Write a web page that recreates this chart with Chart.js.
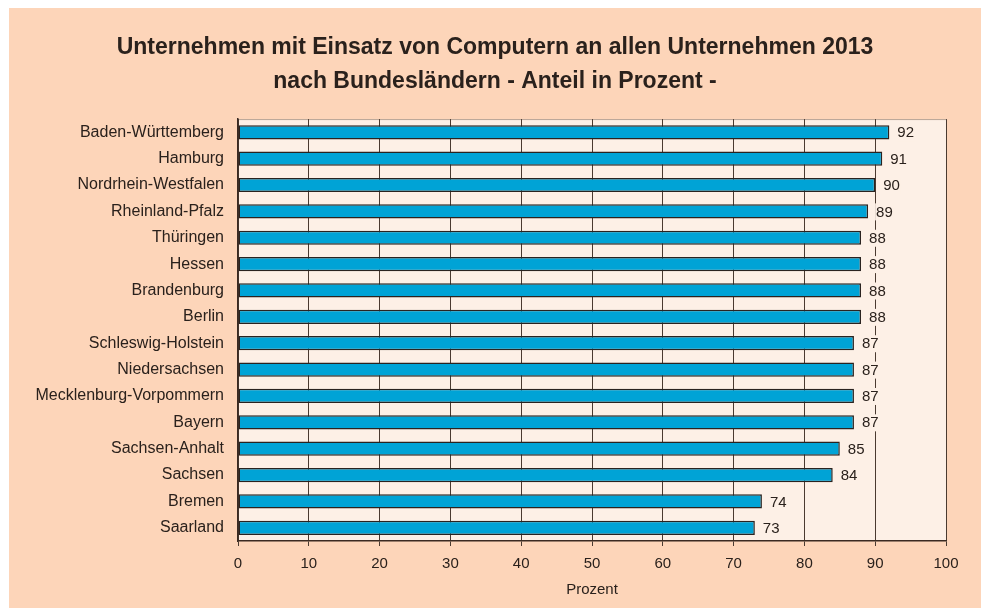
<!DOCTYPE html>
<html>
<head>
<meta charset="utf-8">
<script src="https://cdn.jsdelivr.net/npm/chart.js@4.4.1/dist/chart.umd.min.js"></script>
<style>
  html, body { margin: 0; padding: 0; background: #fff; }
  #box {
    position: absolute; left: 9px; top: 8px;
    width: 972px; height: 600px;
    background: #fdd5b9;
  }
  canvas { display: block; }
</style>
</head>
<body>
<div id="box"><canvas id="grafico" width="972" height="600"></canvas></div>
<script>
const laender = [
  "Baden-Württemberg", "Hamburg", "Nordrhein-Westfalen", "Rheinland-Pfalz",
  "Thüringen", "Hessen", "Brandenburg", "Berlin", "Schleswig-Holstein",
  "Niedersachsen", "Mecklenburg-Vorpommern", "Bayern", "Sachsen-Anhalt",
  "Sachsen", "Bremen", "Saarland"
];
const anteil = [92, 91, 90, 89, 88, 88, 88, 88, 87, 87, 87, 87, 85, 84, 74, 73];
const titel = [
  "Unternehmen mit Einsatz von Computern an allen Unternehmen 2013",
  "nach Bundesländern - Anteil in Prozent -"
];
const achsenTitel = "Prozent";

const schrift = "'Liberation Sans', Arial, sans-serif";
const textFarbe = "#2a211c";

// Hintergrund der Zeichenfläche, Rahmen und Werte an den Balken
const flaeche = {
  id: "flaeche",
  afterLayout(chart) {
    // Titel über die ganze Breite zentrieren
    const t = chart.titleBlock;
    if (t) { t.left = 0; t.right = chart.width; t.width = chart.width; }
  },
  beforeDraw(chart) {
    const { ctx, chartArea: a } = chart;
    ctx.save();
    ctx.fillStyle = "#fdf0e6";
    ctx.fillRect(a.left, a.top, a.right - a.left, a.bottom - a.top);
    ctx.strokeStyle = "#b8a394";
    ctx.lineWidth = 1;
    ctx.beginPath();
    ctx.moveTo(a.left, a.top + 0.5);
    ctx.lineTo(a.right, a.top + 0.5);
    ctx.stroke();
    ctx.restore();
  },
  afterDatasetsDraw(chart) {
    const { ctx } = chart;
    const meta = chart.getDatasetMeta(0);
    ctx.save();
    ctx.font = "15px " + schrift;
    ctx.textBaseline = "middle";
    meta.data.forEach((bar, i) => {
      const txt = String(anteil[i]);
      const x = bar.x + 8;
      const w = ctx.measureText(txt).width;
      ctx.fillStyle = "#fdf0e6";
      ctx.fillRect(x - 1, bar.y - 8, w + 2, 17);
      ctx.fillStyle = textFarbe;
      ctx.fillText(txt, x, bar.y + 1);
    });
    ctx.restore();
  }
};

new Chart(document.getElementById("grafico"), {
  type: "bar",
  data: {
    labels: laender,
    datasets: [{
      data: anteil,
      backgroundColor: "#00a3d6",
      borderColor: "#2a2320",
      borderWidth: 1.5,
      borderSkipped: false,
      barPercentage: 0.54,
      categoryPercentage: 1
    }]
  },
  options: {
    indexAxis: "y",
    responsive: false,
    animation: false,
    layout: { padding: { left: 0, right: 35, top: 0, bottom: 0 } },
    plugins: {
      legend: { display: false },
      tooltip: { enabled: false },
      title: {
        display: true,
        text: titel,
        color: textFarbe,
        font: { family: schrift, size: 23, weight: "bold", lineHeight: 1.48 },
        padding: { top: 23, bottom: 20 }
      }
    },
    scales: {
      x: {
        min: 0,
        max: 100,
        ticks: {
          stepSize: 10,
          color: textFarbe,
          padding: 9,
          font: { family: schrift, size: 15 }
        },
        grid: {
          color: "#4a3a30",
          lineWidth: 1,
          tickLength: 5,
          tickColor: "#4a3a30"
        },
        border: { color: "#3a2a22", width: 1.5 },
        title: {
          display: true,
          text: achsenTitel,
          color: textFarbe,
          font: { family: schrift, size: 15 },
          padding: { top: 0, bottom: 9 }
        },
        afterFit(scale) { scale.height = 67; }
      },
      y: {
        ticks: {
          color: textFarbe,
          padding: 6,
          autoSkip: false,
          font: { family: schrift, size: 16 }
        },
        grid: { display: false },
        border: { color: "#3a2a22", width: 1.5 },
        afterFit(scale) { scale.width = 229; }
      }
    }
  },
  plugins: [flaeche]
});
</script>
</body>
</html>
